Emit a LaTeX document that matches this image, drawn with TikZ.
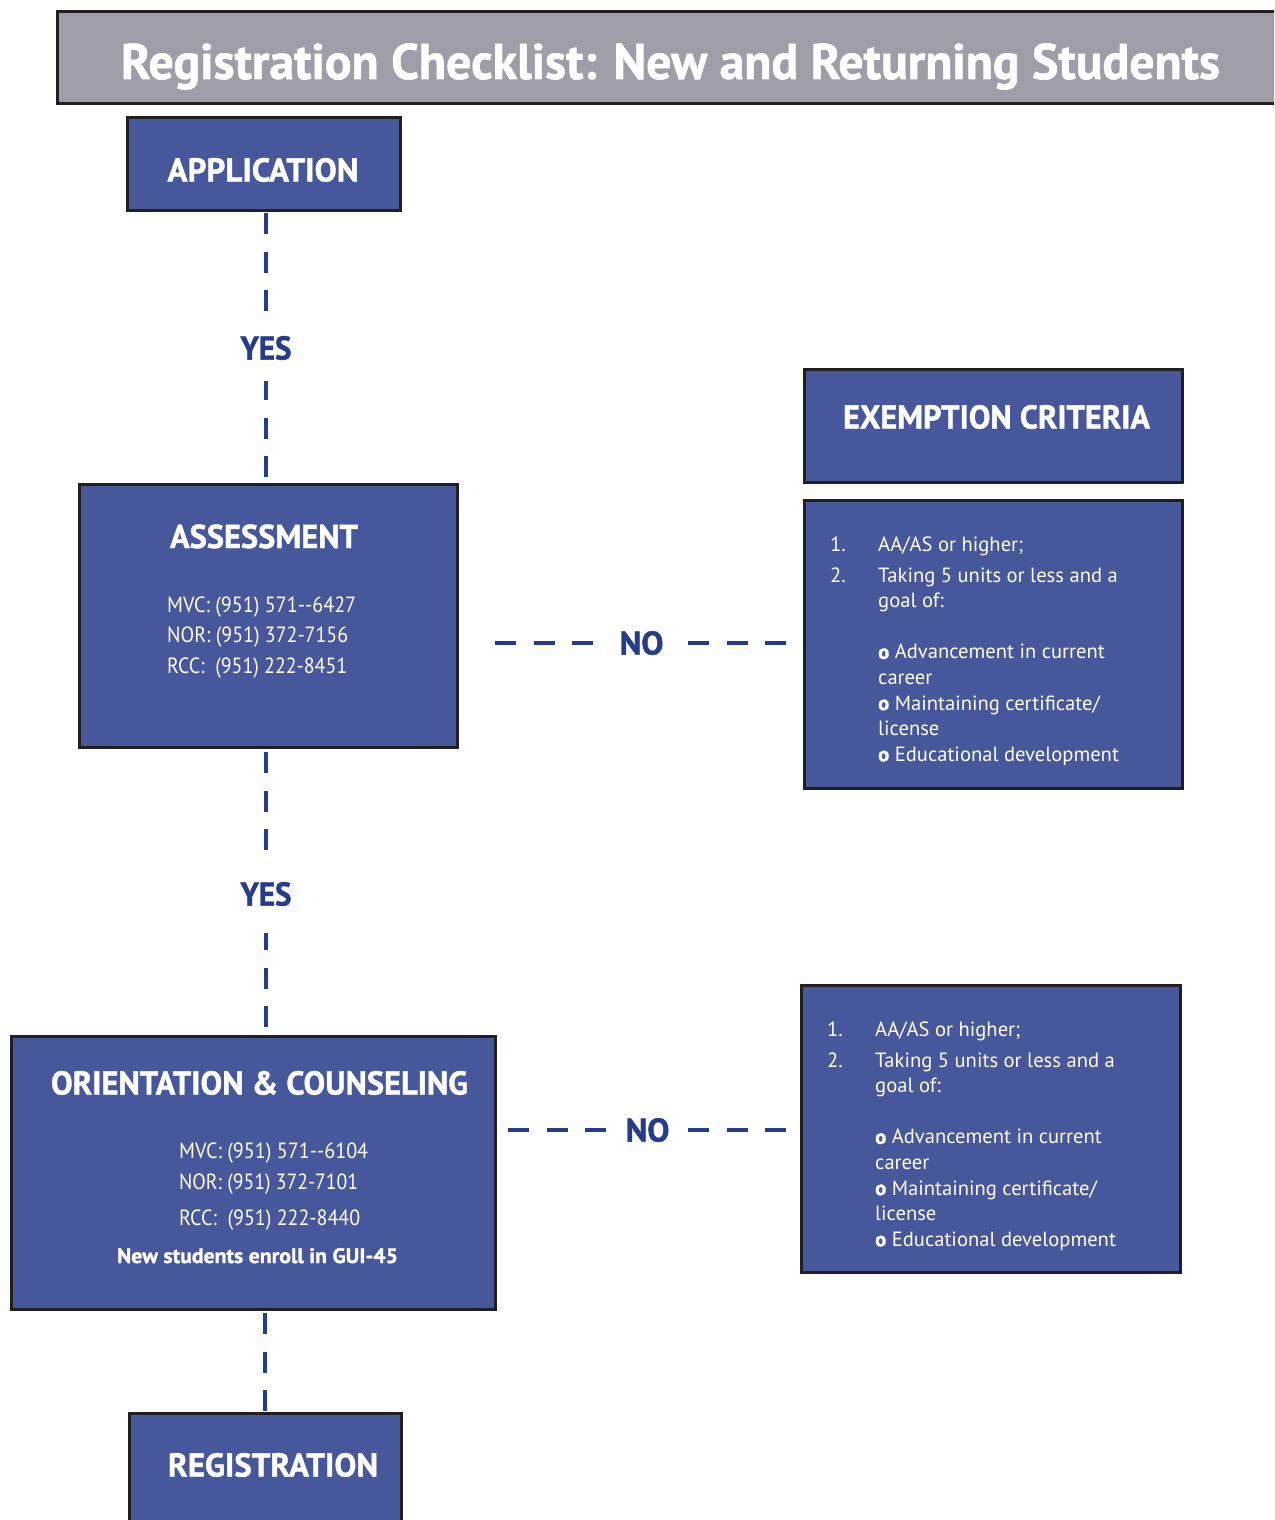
\documentclass[tikz,border=0pt]{standalone}
\usepackage{fontspec}
\setmainfont{PT Sans}[BoldFeatures={FakeBold=1.2}]
\usepackage{graphicx}
\definecolor{boxblue}{HTML}{47579B}
\definecolor{titlegray}{HTML}{A09DA8}
\definecolor{dashblue}{HTML}{253C8C}
\definecolor{edgecol}{HTML}{231F20}
\newcommand\fitw[2]{\resizebox{#1pt}{\height}{#2}}
\begin{document}
\begin{tikzpicture}[x=1pt,y=-1pt,
  boxnode/.style={draw=edgecol, line width=3pt, fill=boxblue, inner sep=0pt, outer sep=0pt},
  titlebox/.style={draw=edgecol, line width=3pt, fill=titlegray, inner sep=0pt, outer sep=0pt},
  heading/.style={text=white, font=\bfseries\fontsize{33}{38}\selectfont, inner sep=0pt, anchor=base},
  phone/.style={text=white, font=\fontsize{22}{26}\selectfont, inner sep=0pt},
  crittext/.style={text=white, font=\fontsize{20.6}{25.6}\selectfont, inner sep=0pt, anchor=base west},
  lbl/.style={text=dashblue, font=\bfseries\fontsize{33}{38}\selectfont, inner sep=0pt},
  dl/.style={draw=dashblue, line width=4pt, dash pattern=on 21pt off 17.5pt}
]
\useasboundingbox (0,0) rectangle (1274,1520);
\begin{scope}
\clip (0,0) rectangle (1274,1520);
% title
\node[titlebox, minimum width=1243pt, minimum height=91pt] (title) at (678.5,57.5) {};
\node[text=white, font=\bfseries\fontsize{50}{58}\selectfont, inner sep=0pt, anchor=base] (titlet) at (670.5,79) {\fitw{1099}{Registration Checklist: New and Returning Students}};

% boxes
\node[boxnode, minimum width=273pt, minimum height=93pt] (app) at (263.5,163.5) {};
\node[boxnode, minimum width=378pt, minimum height=263pt] (assess) at (268,615.5) {};
\node[boxnode, minimum width=378pt, minimum height=113pt] (exem) at (993,425.5) {};
\node[boxnode, minimum width=378pt, minimum height=288pt] (crit1) at (993,644) {};
\node[boxnode, minimum width=484pt, minimum height=273pt] (orient) at (253,1172.5) {};
\node[boxnode, minimum width=379pt, minimum height=287pt] (crit2) at (990.5,1128.5) {};
\node[boxnode, minimum width=272pt, minimum height=127pt] (reg) at (265,1476.5) {};

% headings
\node[heading] (appt) at (263,181.5) {\fitw{191}{APPLICATION}};
\node[heading] (assesst) at (264,548) {\fitw{188}{ASSESSMENT}};
\node[heading] (exemt) at (996.5,428.5) {\fitw{307}{EXEMPTION CRITERIA}};
\node[heading] (orientt) at (259.5,1094.5) {\fitw{417}{ORIENTATION \& COUNSELING}};
\node[heading] (regt) at (273,1476.5) {\fitw{210}{REGISTRATION}};

% assessment phones
\node[phone, anchor=base west] (a1) at (167,612.5) {\fitw{189}{MVC: (951) 571-{}-6427}};
\node[phone, anchor=base west] (a2) at (167,642.5) {\fitw{181}{NOR: (951) 372-7156}};
\node[phone, anchor=base west] (a3) at (167,673.5) {\fitw{180}{RCC:\ \ (951) 222-8451}};

% orientation phones
\node[phone, anchor=base west] (o1) at (179,1158.5) {\fitw{189}{MVC: (951) 571-{}-6104}};
\node[phone, anchor=base west] (o2) at (179,1189.5) {\fitw{179}{NOR: (951) 372-7101}};
\node[phone, anchor=base west] (o3) at (179,1225.5) {\fitw{181}{RCC:\ \ (951) 222-8440}};
\node[phone, font=\bfseries\fontsize{21}{25}\selectfont, anchor=base] (o4) at (257.5,1263) {\fitw{281}{New students enroll in GUI-45}};

% criteria
\newcommand\critlist{%
  \begin{tabular}[t]{@{}p{48pt}@{}l@{}}
  1. & AA/AS or higher;\\[5pt]
  2. & Taking 5 units or less and a\\
     & goal of:\\
     & \\
     & \textbf{o} Advancement in current\\
     & career\\
     & \textbf{o} Maintaining certificate/\\
     & license\\
     & \textbf{o} Educational development
  \end{tabular}}
\node[crittext] (c1) at (830,551.5) {\critlist};
\node[crittext] (c2) at (827,1036.5) {\critlist};

% labels
\node[lbl, minimum height=66pt] (yes1) at (266,348) {\fitw{51}{YES}};
\node[lbl, minimum height=78pt] (yes2) at (266,894) {\fitw{51}{YES}};
\node[lbl, minimum width=93pt] (no1) at (641.5,643) {\fitw{44}{NO}};
\node[lbl, minimum width=81pt] (no2) at (647.5,1130) {\fitw{44}{NO}};

% connectors
\draw[dl, shorten <=3pt] (app.south -| yes1) -- (yes1.north);
\draw[dl, shorten <=7pt] (assess.north -| yes1) -- (yes1.south);
\draw[dl, shorten <=5pt] (assess.south -| yes2) -- (yes2.north);
\draw[dl, shorten <=9pt] (orient.north -| yes2) -- (yes2.south);
\draw[dl, shorten <=4pt] (orient.south -| reg.north) -- (reg.north);
\draw[dl, shorten <=38pt] (assess.east |- no1.west) -- (no1.west);
\draw[dl, shorten >=16pt] (no1.east) -- (crit1.west |- no1.east);
\draw[dl, shorten <=13pt] (orient.east |- no2.west) -- (no2.west);
\draw[dl, shorten >=13pt] (no2.east) -- (crit2.west |- no2.east);
\end{scope}
\end{tikzpicture}
\end{document}
